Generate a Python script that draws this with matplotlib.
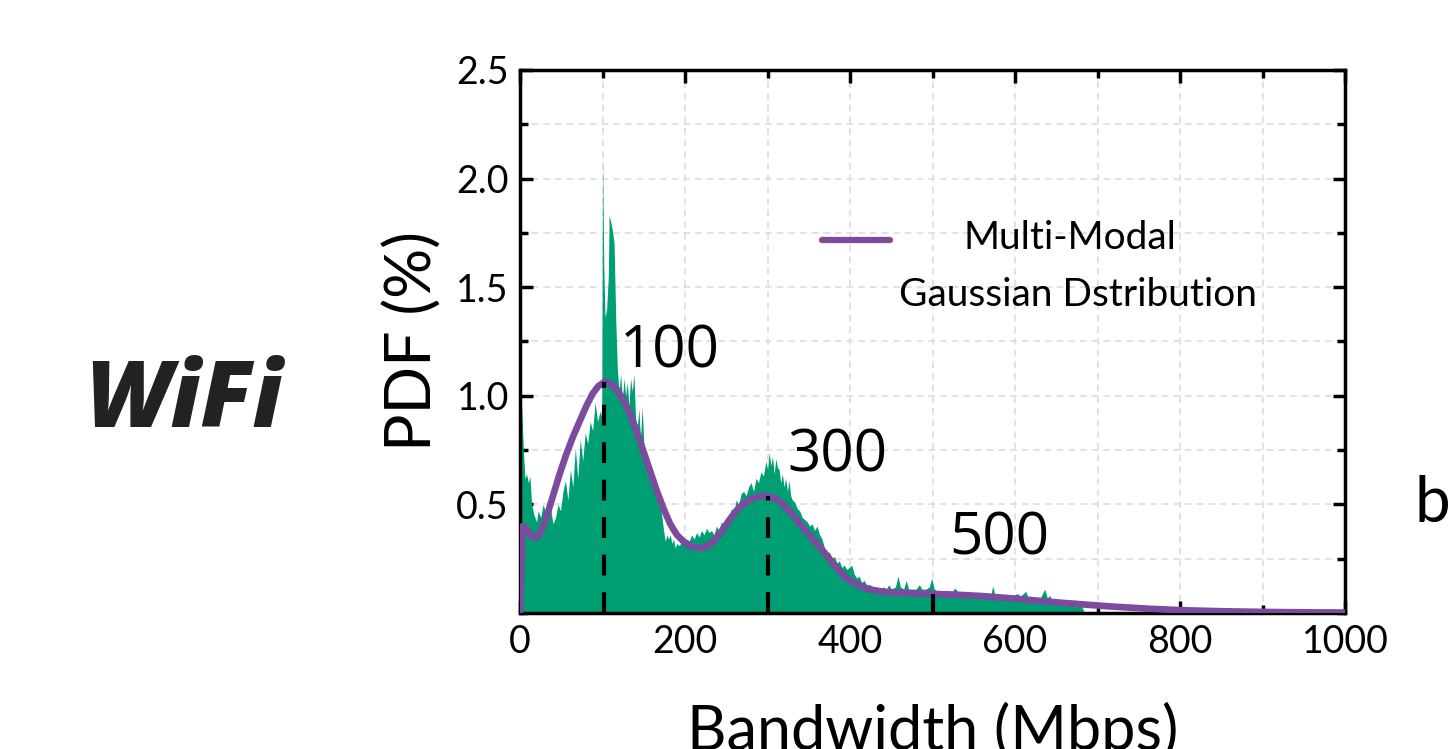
"""WiFi bandwidth PDF with a multi-modal Gaussian fit."""

import matplotlib
matplotlib.use("Agg")
import matplotlib.pyplot as plt
from matplotlib.ticker import MultipleLocator, FixedLocator

# measured bandwidth histogram (Mbps, PDF %)
bw_x = [0, 2, 4, 6, 8, 10, 12, 14, 17, 20,
        22, 25, 28, 31, 34, 37, 40, 43, 46, 49, 52, 55, 58, 61, 64, 67, 70,
        73, 76, 79, 82, 85, 88, 91, 94, 97, 99,
        100, 101.5, 103, 105, 107, 108, 110, 112, 114, 116, 118, 120, 122,
        124, 126, 128, 130, 132, 134, 136, 138, 140, 142, 144, 146, 148,
        150, 152, 154, 156, 158, 160, 162, 165, 168, 170, 172, 174, 176,
        178, 180, 182, 184, 186, 188, 190, 193, 196, 199, 202, 205, 208,
        211, 214, 217, 220, 223, 226, 229, 232, 235, 238, 241, 244, 247,
        250, 253, 256, 259, 262, 265, 268, 271, 274, 277, 280, 283, 286,
        289, 292, 295, 298, 300, 302, 304, 306, 308, 310, 312, 314, 316,
        318, 320, 322, 324, 326, 328, 330, 333, 336, 339, 342, 345, 348,
        351, 354, 357, 360, 363, 366, 369, 372, 375, 378, 381, 384, 387,
        390, 393, 396, 399, 402, 405, 408, 411, 414, 417, 420, 424, 428,
        432, 436, 440, 444, 447, 450, 455, 458, 461, 465, 468, 471, 476,
        480, 484, 487, 492, 496, 499, 502, 506, 512, 518, 524, 527, 530,
        536, 543, 548, 555, 562, 568, 571, 573, 575, 582, 590, 598, 603,
        606, 613, 616, 622, 630, 636, 639, 642, 645, 652, 660, 668, 672,
        676, 680, 684]
bw_pdf = [1.02, 0.95, 0.75, 0.62, 0.64, 0.60, 0.63, 0.50, 0.45, 0.42,
          0.47, 0.44, 0.50, 0.46, 0.43, 0.48, 0.41, 0.44, 0.50, 0.47, 0.56,
          0.61, 0.52, 0.66, 0.58, 0.76, 0.62, 0.80, 0.70, 0.83, 0.78, 0.88,
          0.84, 0.97, 0.88, 0.93, 0.90,
          2.09, 1.60, 1.36, 1.40, 1.55, 1.83, 1.80, 1.76, 1.70, 1.35, 1.12,
          1.02, 1.10, 0.98, 1.08, 1.00, 1.06, 0.95, 1.08, 1.02, 1.10, 0.90,
          0.85, 0.94, 0.80, 0.95, 0.78, 0.70, 0.64, 0.68, 0.60, 0.62, 0.58,
          0.55, 0.52, 0.50, 0.44, 0.38, 0.33, 0.36, 0.34, 0.36, 0.32, 0.34,
          0.30, 0.32, 0.31, 0.33, 0.31, 0.34, 0.33, 0.36, 0.34, 0.37, 0.35,
          0.38, 0.36, 0.39, 0.37, 0.38, 0.36, 0.40, 0.38, 0.42, 0.40, 0.44,
          0.43, 0.48, 0.46, 0.52, 0.50, 0.55, 0.56, 0.54, 0.58, 0.60, 0.56,
          0.62, 0.60, 0.65, 0.63, 0.70, 0.66, 0.74, 0.68, 0.72, 0.64, 0.71,
          0.67, 0.66, 0.60, 0.64, 0.58, 0.62, 0.56, 0.61, 0.54, 0.52, 0.51,
          0.48, 0.47, 0.44, 0.43, 0.42, 0.40, 0.41, 0.38, 0.40, 0.36, 0.34,
          0.30, 0.27, 0.28, 0.25, 0.26, 0.23, 0.24, 0.21, 0.22, 0.20, 0.21,
          0.22, 0.18, 0.16, 0.17, 0.14, 0.15, 0.13, 0.13, 0.12, 0.12, 0.11,
          0.12, 0.11, 0.13, 0.11, 0.12, 0.17, 0.12, 0.11, 0.15, 0.11, 0.11,
          0.11, 0.13, 0.11, 0.11, 0.12, 0.16, 0.11, 0.10, 0.10, 0.10, 0.10,
          0.115, 0.10, 0.095, 0.10, 0.09, 0.09, 0.09, 0.09, 0.09, 0.125,
          0.09, 0.085, 0.08, 0.08, 0.09, 0.075, 0.10, 0.07, 0.07, 0.065,
          0.11, 0.07, 0.08, 0.06, 0.055, 0.05, 0.05, 0.06, 0.055, 0.04, 0.0]

# fitted multi-modal gaussian curve
fit_x = [0, 3, 8, 14, 19, 25, 32, 40, 48, 56, 64, 72, 80, 88, 95, 103,
         110, 118, 126, 134, 142, 150, 158, 166, 174, 182, 190, 198, 206,
         214, 222, 230, 238, 246, 254, 262, 270, 278, 286, 294, 300, 308,
         316, 324, 332, 340, 348, 356, 364, 372, 380, 388, 396, 404, 412,
         420, 430, 440, 455, 475, 500, 530, 560, 600, 640, 680, 720, 760,
         800, 850, 900, 950, 1000]
fit_y = [0.0, 0.40, 0.385, 0.355, 0.345, 0.37, 0.44, 0.54, 0.64, 0.73,
         0.81, 0.88, 0.95, 1.01, 1.045, 1.065, 1.055, 1.025, 0.975, 0.91,
         0.83, 0.74, 0.65, 0.56, 0.48, 0.41, 0.36, 0.33, 0.31, 0.30, 0.30,
         0.315, 0.345, 0.385, 0.43, 0.47, 0.50, 0.52, 0.533, 0.538, 0.537,
         0.53, 0.51, 0.48, 0.445, 0.405, 0.37, 0.335, 0.30, 0.265, 0.225,
         0.19, 0.16, 0.14, 0.125, 0.113, 0.104, 0.098, 0.094, 0.091, 0.088,
         0.084, 0.078, 0.066, 0.052, 0.040, 0.029, 0.020, 0.013, 0.008,
         0.005, 0.003, 0.002]

peak_x = [102, 300, 500]
peak_y = [1.065, 0.537, 0.088]
peak_labels = ["100", "300", "500"]
label_pos = [(121, 1.13), (324, 0.65), (520, 0.27)]

GREEN = "#009e73"
PURPLE = "#7c4a9f"

plt.rcParams["font.family"] = ["Lato", "DejaVu Sans"]

fig = plt.figure(figsize=(14.51, 7.49), dpi=100)
ax = fig.add_axes([0.3584, 0.1816, 0.5686, 0.725])

ax.fill_between(bw_x, bw_pdf, 0, color=GREEN, linewidth=0, zorder=2)
ax.plot(fit_x, fit_y, color=PURPLE, linewidth=4.8, solid_capstyle="round",
        solid_joinstyle="round", zorder=3)
for px, py in zip(peak_x, peak_y):
    ax.plot([px, px], [0, py], color="black", linewidth=3,
            linestyle=(0, (5, 4)), zorder=4)
for lab, (lx, ly) in zip(peak_labels, label_pos):
    ax.text(lx, ly, lab, fontsize=42, family="Open Sans", ha="left",
            va="baseline", zorder=5)

# legend drawn by hand so the key sits on the first text line
ax.plot([0.366, 0.448], [0.687, 0.687], transform=ax.transAxes,
        color=PURPLE, linewidth=4.5, solid_capstyle="round", zorder=5)
ax.text(0.667, 0.69, "Multi-Modal", transform=ax.transAxes, fontsize=28,
        ha="center", va="center", zorder=5)
ax.text(0.676, 0.586, "Gaussian Dstribution", transform=ax.transAxes,
        fontsize=28, ha="center", va="center", zorder=5)

ax.set_xlim(0, 1000)
ax.set_ylim(0, 2.5)
ax.xaxis.set_major_locator(MultipleLocator(200))
ax.xaxis.set_minor_locator(MultipleLocator(100))
ax.yaxis.set_major_locator(FixedLocator([0.5, 1.0, 1.5, 2.0, 2.5]))
ax.yaxis.set_minor_locator(MultipleLocator(0.25))
ax.set_yticklabels(["0.5", "1.0", "1.5", "2.0", "2.5"])
ax.tick_params(which="both", direction="in", top=True, right=True,
               labelsize=27, width=2.5, pad=8)
ax.tick_params(which="major", length=9)
ax.tick_params(which="minor", length=6)
ax.grid(which="both", color="#dddddd", linestyle=(0, (4, 3)), linewidth=1.2,
        zorder=0)
ax.set_axisbelow(True)
for sp in ax.spines.values():
    sp.set_linewidth(2.5)

ax.set_ylabel("PDF (%)", fontsize=45, labelpad=10)
ax.set_xlabel("Bandwidth (Mbps)", fontsize=44, labelpad=30)

fig.text(0.127, 0.462, "WiFi", fontsize=66, family="Open Sans",
         weight="heavy", style="italic", color="#222222", ha="center",
         va="center")
fig.text(0.975, 0.303, "b", fontsize=46, ha="left", va="baseline")

fig.savefig("out.png", dpi=100)
